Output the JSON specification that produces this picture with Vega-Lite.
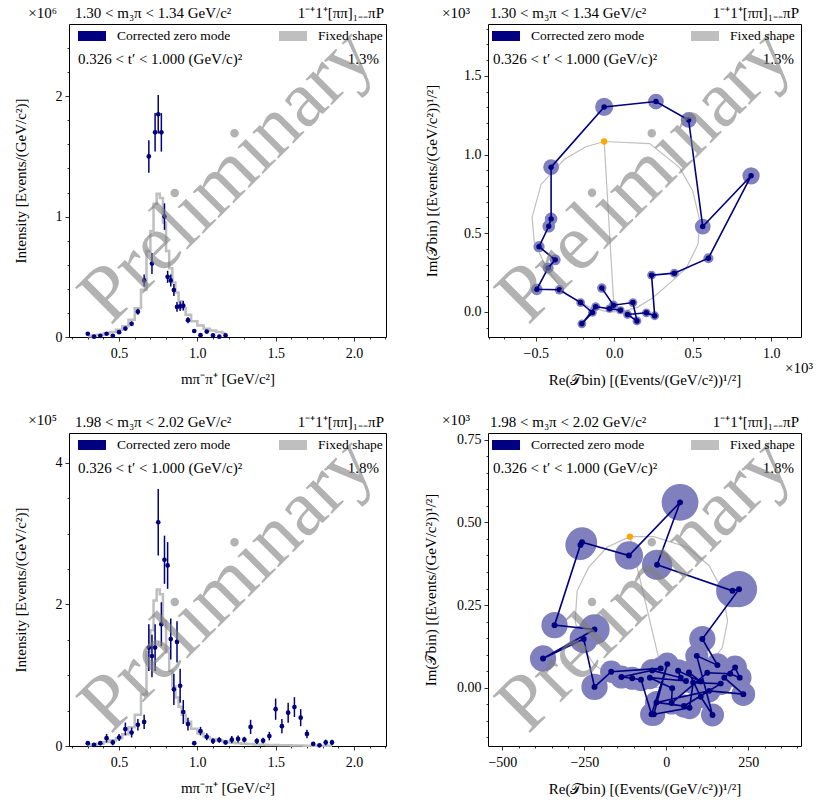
{
"$schema": "https://vega.github.io/schema/vega-lite/v6.json",
"background": "white",
"padding": {"left": 13, "top": 5, "right": 0, "bottom": 0},
"bounds": "flush",
"columns": 2,
"spacing": {"row": 96, "column": 102},
"resolve": {"scale": {"color": "independent", "size": "independent"}, "legend": {"color": "independent", "size": "independent"}},
"config": {
  "font": "Liberation Serif",
  "view": {"stroke": "black", "strokeWidth": 1},
  "axis": {"labelFont": "Liberation Serif", "labelFontSize": 14, "labelColor": "black", "titleFont": "Liberation Serif", "titleFontSize": 15, "titleFontWeight": "normal", "titleColor": "black", "tickColor": "black", "tickWidth": 0.8, "tickSize": 4, "labelPadding": 3, "domain": false, "grid": false, "labelFlush": false, "labelOverlap": false},
  "axisX": {"labelPadding": 5, "titlePadding": 11},
  "text": {"font": "Liberation Serif", "fontSize": 15, "color": "black"},
  "legend": {"labelFont": "Liberation Serif", "labelFontSize": 13.5, "labelColor": "black"}
},
"concat": [
{
  "width": 317, "height": 313,
  "resolve": {"axis": {"x": "independent", "y": "independent"}},
  "layer": [
    {"data": {"name": "tl"}, "mark": {"type": "line", "interpolate": "step", "strokeWidth": 2.5},
     "encoding": {
       "x": {"field": "m", "type": "quantitative", "scale": {"domain": [0.18, 2.205], "nice": false, "zero": false}, "axis": {"values": [0.5, 1, 1.5, 2], "format": ".1f", "title": "mπ⁻π⁺ [GeV/c²]", "orient": "bottom"}},
       "y": {"field": "fix", "type": "quantitative", "scale": {"domain": [0, 2.6], "nice": false}, "axis": {"values": [0, 1, 2], "format": "d", "title": "Intensity [Events/(GeV/c²)]", "orient": "left", "titlePadding": 26.5}},
       "color": {"datum": "Fixed shape", "scale": {"domain": ["Corrected zero mode", "Fixed shape"], "range": ["#000080", "#bfbfbf"]},
         "legend": {"title": null, "orient": "none", "legendX": 4, "legendY": -7, "direction": "horizontal", "columns": 2, "columnPadding": 28, "symbolType": "stroke", "symbolSize": 784, "symbolStrokeWidth": 10, "labelOffset": 6, "padding": 0}}
     }},
    {"data": {"name": "tl"}, "mark": {"type": "errorbar", "color": "#000080", "thickness": 1.5},
     "encoding": {
       "x": {"field": "m", "type": "quantitative", "axis": {"values": [0.2, 0.3, 0.4, 0.6, 0.7, 0.8, 0.9, 1.1, 1.2, 1.3, 1.4, 1.6, 1.7, 1.8, 1.9, 2.1, 2.2], "labels": false, "tickSize": 2, "title": null, "orient": "bottom"}},
       "y": {"field": "I", "type": "quantitative", "axis": {"values": [0.2, 0.4, 0.6, 0.8, 1.2, 1.4, 1.6, 1.8, 2.2, 2.4], "labels": false, "tickSize": 2, "title": null, "orient": "left"}},
       "yError": {"field": "err"}
     }},
    {"data": {"name": "tl"}, "mark": {"type": "point", "filled": true, "size": 22, "opacity": 1},
     "encoding": {
       "x": {"field": "m", "type": "quantitative", "axis": null},
       "y": {"field": "I", "type": "quantitative", "axis": null},
       "color": {"datum": "Corrected zero mode"}
     }},
    {"data": {"name": "annTL"}, "mark": {"type": "text", "align": "left", "baseline": "alphabetic", "dx": 6, "dy": -6},
     "encoding": {"x": {"datum": 0.18, "type": "quantitative", "axis": null}, "y": {"datum": 2.6, "type": "quantitative", "axis": null}, "text": {"field": "ttl"}}},
    {"data": {"name": "annTL"}, "mark": {"type": "text", "align": "left", "baseline": "alphabetic", "dx": 9, "dy": 40},
     "encoding": {"x": {"datum": 0.18, "type": "quantitative", "axis": null}, "y": {"datum": 2.6, "type": "quantitative", "axis": null}, "text": {"field": "tr"}}},
    {"data": {"name": "annTL"}, "mark": {"type": "text", "align": "right", "baseline": "alphabetic", "dx": -7, "dy": 40},
     "encoding": {"x": {"datum": 2.205, "type": "quantitative", "axis": null}, "y": {"datum": 2.6, "type": "quantitative", "axis": null}, "text": {"field": "pct"}}},
    {"data": {"name": "annTL"}, "mark": {"type": "text", "align": "right", "baseline": "alphabetic", "dx": -2, "dy": -6},
     "encoding": {"x": {"datum": 2.205, "type": "quantitative", "axis": null}, "y": {"datum": 2.6, "type": "quantitative", "axis": null}, "text": {"field": "chan"}}},
    {"data": {"name": "annTL"}, "mark": {"type": "text", "align": "right", "baseline": "alphabetic", "dx": -12, "dy": -6},
     "encoding": {"x": {"datum": 0.18, "type": "quantitative", "axis": null}, "y": {"datum": 2.6, "type": "quantitative", "axis": null}, "text": {"field": "ey"}}},
    {"data": {"name": "annTL"}, "mark": {"type": "text", "align": "center", "baseline": "middle", "angle": 315, "fontSize": 80, "color": "#7f7f7f", "opacity": 0.6},
     "encoding": {"x": {"datum": 1.19, "type": "quantitative", "axis": null}, "y": {"datum": 1.34, "type": "quantitative", "axis": null}, "text": {"field": "wm"}}}
  ]
},
{
  "width": 313, "height": 313,
  "resolve": {"axis": {"x": "independent", "y": "independent"}},
  "layer": [
    {"mark": {"type": "rule", "color": "#444444", "strokeWidth": 0.8, "strokeDash": [2, 2]},
     "encoding": {"x": {"datum": 0, "type": "quantitative", "axis": null}}},
    {"mark": {"type": "rule", "color": "#444444", "strokeWidth": 0.8, "strokeDash": [2, 2]},
     "encoding": {"y": {"datum": 0, "type": "quantitative", "axis": null}}},
    {"data": {"name": "trfix"}, "mark": {"type": "line", "strokeWidth": 1.2},
     "encoding": {
       "x": {"field": "re", "type": "quantitative", "scale": {"domain": [-0.804, 1.19], "nice": false, "zero": false}, "axis": {"values": [-0.5, 0, 0.5, 1.0], "format": ".1f", "title": "Re(𝒯bin) [(Events/(GeV/c²))¹/²]", "orient": "bottom", "titlePadding": 12}},
       "y": {"field": "im", "type": "quantitative", "scale": {"domain": [-0.16, 1.83], "nice": false, "zero": false}, "axis": {"values": [0, 0.5, 1.0, 1.5], "format": ".1f", "title": "Im(𝒯bin) [(Events/(GeV/c²))¹/²]", "orient": "left", "titlePadding": 24}},
       "order": {"field": "k", "type": "quantitative"},
       "color": {"datum": "Fixed shape", "scale": {"domain": ["Corrected zero mode", "Fixed shape"], "range": ["#000080", "#bfbfbf"]},
         "legend": {"title": null, "orient": "none", "legendX": -1, "legendY": -7, "direction": "horizontal", "columns": 2, "columnPadding": 26, "symbolType": "stroke", "symbolSize": 784, "symbolStrokeWidth": 10, "labelOffset": 6, "padding": 0}}
     }},
    {"data": {"name": "tr"}, "mark": {"type": "point", "shape": "circle", "filled": true, "color": "#8080bf", "opacity": 1},
     "encoding": {
       "x": {"field": "re", "type": "quantitative", "axis": null},
       "y": {"field": "im", "type": "quantitative", "axis": null},
       "size": {"field": "err", "type": "quantitative", "scale": {"type": "pow", "exponent": 2, "zero": true, "nice": false, "domain": [0, 0.1], "range": [0, 986]}, "legend": null}
     }},
    {"data": {"name": "tr"}, "mark": {"type": "line", "color": "#000080", "strokeWidth": 1.6},
     "encoding": {
       "x": {"field": "re", "type": "quantitative", "axis": {"values": [-0.8, -0.7, -0.6, -0.4, -0.3, -0.2, -0.1, 0.1, 0.2, 0.3, 0.4, 0.6, 0.7, 0.8, 0.9, 1.1], "labels": false, "tickSize": 2, "title": null, "orient": "bottom"}},
       "y": {"field": "im", "type": "quantitative", "axis": {"values": [-0.1, 0.1, 0.2, 0.3, 0.4, 0.6, 0.7, 0.8, 0.9, 1.1, 1.2, 1.3, 1.4, 1.6, 1.7, 1.8], "labels": false, "tickSize": 2, "title": null, "orient": "left"}},
       "order": {"field": "m", "type": "quantitative"}
     }},
    {"data": {"name": "tr"}, "mark": {"type": "point", "filled": true, "size": 30, "opacity": 1},
     "encoding": {
       "x": {"field": "re", "type": "quantitative", "axis": null},
       "y": {"field": "im", "type": "quantitative", "axis": null},
       "color": {"datum": "Corrected zero mode"}
     }},
    {"data": {"name": "trorange"}, "mark": {"type": "point", "filled": true, "size": 40, "opacity": 1, "color": "#ffa500"},
     "encoding": {
       "x": {"field": "re", "type": "quantitative", "axis": null},
       "y": {"field": "im", "type": "quantitative", "axis": null}
     }},
    {"data": {"name": "annTR"}, "mark": {"type": "text", "align": "left", "baseline": "alphabetic", "dx": 2, "dy": -6},
     "encoding": {"x": {"datum": -0.804, "type": "quantitative", "axis": null}, "y": {"datum": 1.83, "type": "quantitative", "axis": null}, "text": {"field": "ttl"}}},
    {"data": {"name": "annTR"}, "mark": {"type": "text", "align": "left", "baseline": "alphabetic", "dx": 5, "dy": 40},
     "encoding": {"x": {"datum": -0.804, "type": "quantitative", "axis": null}, "y": {"datum": 1.83, "type": "quantitative", "axis": null}, "text": {"field": "tr"}}},
    {"data": {"name": "annTR"}, "mark": {"type": "text", "align": "right", "baseline": "alphabetic", "dx": -7, "dy": 40},
     "encoding": {"x": {"datum": 1.19, "type": "quantitative", "axis": null}, "y": {"datum": 1.83, "type": "quantitative", "axis": null}, "text": {"field": "pct"}}},
    {"data": {"name": "annTR"}, "mark": {"type": "text", "align": "right", "baseline": "alphabetic", "dx": -2, "dy": -6},
     "encoding": {"x": {"datum": 1.19, "type": "quantitative", "axis": null}, "y": {"datum": 1.83, "type": "quantitative", "axis": null}, "text": {"field": "chan"}}},
    {"data": {"name": "annTR"}, "mark": {"type": "text", "align": "right", "baseline": "alphabetic", "dx": -18, "dy": -6},
     "encoding": {"x": {"datum": -0.804, "type": "quantitative", "axis": null}, "y": {"datum": 1.83, "type": "quantitative", "axis": null}, "text": {"field": "ey"}}},
    {"data": {"name": "annTR"}, "mark": {"type": "text", "align": "right", "baseline": "alphabetic", "dx": 12, "dy": 36},
     "encoding": {"x": {"datum": 1.19, "type": "quantitative", "axis": null}, "y": {"datum": -0.16, "type": "quantitative", "axis": null}, "text": {"field": "ex"}}},
    {"data": {"name": "annTR"}, "mark": {"type": "text", "align": "center", "baseline": "middle", "angle": 315, "fontSize": 80, "color": "#7f7f7f", "opacity": 0.6},
     "encoding": {"x": {"datum": 0.193, "type": "quantitative", "axis": null}, "y": {"datum": 0.867, "type": "quantitative", "axis": null}, "text": {"field": "wm"}}}
  ]
},
{
  "width": 317, "height": 313,
  "resolve": {"axis": {"x": "independent", "y": "independent"}},
  "layer": [
    {"data": {"name": "bl"}, "mark": {"type": "line", "interpolate": "step", "strokeWidth": 2.5},
     "encoding": {
       "x": {"field": "m", "type": "quantitative", "scale": {"domain": [0.18, 2.205], "nice": false, "zero": false}, "axis": {"values": [0.5, 1, 1.5, 2], "format": ".1f", "title": "mπ⁻π⁺ [GeV/c²]", "orient": "bottom"}},
       "y": {"field": "fix", "type": "quantitative", "scale": {"domain": [0, 4.42], "nice": false}, "axis": {"values": [0, 2, 4], "format": "d", "title": "Intensity [Events/(GeV/c²)]", "orient": "left", "titlePadding": 26.5}},
       "color": {"datum": "Fixed shape", "scale": {"domain": ["Corrected zero mode", "Fixed shape"], "range": ["#000080", "#bfbfbf"]},
         "legend": {"title": null, "orient": "none", "legendX": 4, "legendY": -7, "direction": "horizontal", "columns": 2, "columnPadding": 28, "symbolType": "stroke", "symbolSize": 784, "symbolStrokeWidth": 10, "labelOffset": 6, "padding": 0}}
     }},
    {"data": {"name": "bl"}, "mark": {"type": "errorbar", "color": "#000080", "thickness": 1.5},
     "encoding": {
       "x": {"field": "m", "type": "quantitative", "axis": {"values": [0.2, 0.3, 0.4, 0.6, 0.7, 0.8, 0.9, 1.1, 1.2, 1.3, 1.4, 1.6, 1.7, 1.8, 1.9, 2.1, 2.2], "labels": false, "tickSize": 2, "title": null, "orient": "bottom"}},
       "y": {"field": "I", "type": "quantitative", "axis": {"values": [0.5, 1, 1.5, 2.5, 3, 3.5], "labels": false, "tickSize": 2, "title": null, "orient": "left"}},
       "yError": {"field": "err"}
     }},
    {"data": {"name": "bl"}, "mark": {"type": "point", "filled": true, "size": 22, "opacity": 1},
     "encoding": {
       "x": {"field": "m", "type": "quantitative", "axis": null},
       "y": {"field": "I", "type": "quantitative", "axis": null},
       "color": {"datum": "Corrected zero mode"}
     }},
    {"data": {"name": "annBL"}, "mark": {"type": "text", "align": "left", "baseline": "alphabetic", "dx": 6, "dy": -6},
     "encoding": {"x": {"datum": 0.18, "type": "quantitative", "axis": null}, "y": {"datum": 4.42, "type": "quantitative", "axis": null}, "text": {"field": "ttl"}}},
    {"data": {"name": "annBL"}, "mark": {"type": "text", "align": "left", "baseline": "alphabetic", "dx": 9, "dy": 40},
     "encoding": {"x": {"datum": 0.18, "type": "quantitative", "axis": null}, "y": {"datum": 4.42, "type": "quantitative", "axis": null}, "text": {"field": "tr"}}},
    {"data": {"name": "annBL"}, "mark": {"type": "text", "align": "right", "baseline": "alphabetic", "dx": -7, "dy": 40},
     "encoding": {"x": {"datum": 2.205, "type": "quantitative", "axis": null}, "y": {"datum": 4.42, "type": "quantitative", "axis": null}, "text": {"field": "pct"}}},
    {"data": {"name": "annBL"}, "mark": {"type": "text", "align": "right", "baseline": "alphabetic", "dx": -2, "dy": -6},
     "encoding": {"x": {"datum": 2.205, "type": "quantitative", "axis": null}, "y": {"datum": 4.42, "type": "quantitative", "axis": null}, "text": {"field": "chan"}}},
    {"data": {"name": "annBL"}, "mark": {"type": "text", "align": "right", "baseline": "alphabetic", "dx": -12, "dy": -8},
     "encoding": {"x": {"datum": 0.18, "type": "quantitative", "axis": null}, "y": {"datum": 4.42, "type": "quantitative", "axis": null}, "text": {"field": "ey"}}},
    {"data": {"name": "annBL"}, "mark": {"type": "text", "align": "center", "baseline": "middle", "angle": 315, "fontSize": 80, "color": "#7f7f7f", "opacity": 0.6},
     "encoding": {"x": {"datum": 1.19, "type": "quantitative", "axis": null}, "y": {"datum": 2.28, "type": "quantitative", "axis": null}, "text": {"field": "wm"}}}
  ]
},
{
  "width": 313, "height": 313,
  "resolve": {"axis": {"x": "independent", "y": "independent"}},
  "layer": [
    {"mark": {"type": "rule", "color": "#444444", "strokeWidth": 0.8, "strokeDash": [2, 2]},
     "encoding": {"x": {"datum": 0, "type": "quantitative", "axis": null}}},
    {"mark": {"type": "rule", "color": "#444444", "strokeWidth": 0.8, "strokeDash": [2, 2]},
     "encoding": {"y": {"datum": 0, "type": "quantitative", "axis": null}}},
    {"data": {"name": "brfix"}, "mark": {"type": "line", "strokeWidth": 1.2},
     "encoding": {
       "x": {"field": "re", "type": "quantitative", "scale": {"domain": [-544, 411], "nice": false, "zero": false}, "axis": {"values": [-500, -250, 0, 250], "format": "d", "title": "Re(𝒯bin) [(Events/(GeV/c²))¹/²]", "orient": "bottom", "titlePadding": 12}},
       "y": {"field": "im", "type": "quantitative", "scale": {"domain": [-177, 771], "nice": false, "zero": false}, "axis": {"values": [0, 250, 500, 750], "labelExpr": "format(datum.value/1000, '.2f')", "title": "Im(𝒯bin) [(Events/(GeV/c²))¹/²]", "orient": "left", "titlePadding": 18}},
       "order": {"field": "k", "type": "quantitative"},
       "color": {"datum": "Fixed shape", "scale": {"domain": ["Corrected zero mode", "Fixed shape"], "range": ["#000080", "#bfbfbf"]},
         "legend": {"title": null, "orient": "none", "legendX": -1, "legendY": -7, "direction": "horizontal", "columns": 2, "columnPadding": 26, "symbolType": "stroke", "symbolSize": 784, "symbolStrokeWidth": 10, "labelOffset": 6, "padding": 0}}
     }},
    {"data": {"name": "br"}, "mark": {"type": "point", "shape": "circle", "filled": true, "color": "#8080bf", "opacity": 1},
     "encoding": {
       "x": {"field": "re", "type": "quantitative", "axis": null},
       "y": {"field": "im", "type": "quantitative", "axis": null},
       "size": {"field": "err", "type": "quantitative", "scale": {"type": "pow", "exponent": 2, "zero": true, "nice": false, "domain": [0, 100], "range": [0, 4316]}, "legend": null}
     }},
    {"data": {"name": "br"}, "mark": {"type": "line", "color": "#000080", "strokeWidth": 1.6},
     "encoding": {
       "x": {"field": "re", "type": "quantitative", "axis": {"values": [-450, -400, -350, -300, -200, -150, -100, -50, 50, 100, 150, 200, 300, 350, 400], "labels": false, "tickSize": 2, "title": null, "orient": "bottom"}},
       "y": {"field": "im", "type": "quantitative", "axis": {"values": [-150, -100, -50, 50, 100, 150, 200, 300, 350, 400, 450, 550, 600, 650, 700], "labels": false, "tickSize": 2, "title": null, "orient": "left"}},
       "order": {"field": "m", "type": "quantitative"}
     }},
    {"data": {"name": "br"}, "mark": {"type": "point", "filled": true, "size": 35, "opacity": 1},
     "encoding": {
       "x": {"field": "re", "type": "quantitative", "axis": null},
       "y": {"field": "im", "type": "quantitative", "axis": null},
       "color": {"datum": "Corrected zero mode"}
     }},
    {"data": {"name": "brorange"}, "mark": {"type": "point", "filled": true, "size": 40, "opacity": 1, "color": "#ffa500"},
     "encoding": {
       "x": {"field": "re", "type": "quantitative", "axis": null},
       "y": {"field": "im", "type": "quantitative", "axis": null}
     }},
    {"data": {"name": "annBR"}, "mark": {"type": "text", "align": "left", "baseline": "alphabetic", "dx": 2, "dy": -6},
     "encoding": {"x": {"datum": -544, "type": "quantitative", "axis": null}, "y": {"datum": 771, "type": "quantitative", "axis": null}, "text": {"field": "ttl"}}},
    {"data": {"name": "annBR"}, "mark": {"type": "text", "align": "left", "baseline": "alphabetic", "dx": 5, "dy": 40},
     "encoding": {"x": {"datum": -544, "type": "quantitative", "axis": null}, "y": {"datum": 771, "type": "quantitative", "axis": null}, "text": {"field": "tr"}}},
    {"data": {"name": "annBR"}, "mark": {"type": "text", "align": "right", "baseline": "alphabetic", "dx": -7, "dy": 40},
     "encoding": {"x": {"datum": 411, "type": "quantitative", "axis": null}, "y": {"datum": 771, "type": "quantitative", "axis": null}, "text": {"field": "pct"}}},
    {"data": {"name": "annBR"}, "mark": {"type": "text", "align": "right", "baseline": "alphabetic", "dx": -2, "dy": -6},
     "encoding": {"x": {"datum": 411, "type": "quantitative", "axis": null}, "y": {"datum": 771, "type": "quantitative", "axis": null}, "text": {"field": "chan"}}},
    {"data": {"name": "annBR"}, "mark": {"type": "text", "align": "right", "baseline": "alphabetic", "dx": -18, "dy": -8},
     "encoding": {"x": {"datum": -544, "type": "quantitative", "axis": null}, "y": {"datum": 771, "type": "quantitative", "axis": null}, "text": {"field": "ey"}}},
    {"data": {"name": "annBR"}, "mark": {"type": "text", "align": "center", "baseline": "middle", "angle": 315, "fontSize": 80, "color": "#7f7f7f", "opacity": 0.6},
     "encoding": {"x": {"datum": -66.5, "type": "quantitative", "axis": null}, "y": {"datum": 312, "type": "quantitative", "axis": null}, "text": {"field": "wm"}}}
  ]
}
],
"datasets": {
  "annTL": [{"ttl": "1.30 < m₃π < 1.34 GeV/c²", "tr": "0.326 < t′ < 1.000 (GeV/c)²", "pct": "1.3%", "chan": "1⁻⁺1⁺[ππ]₁₋₋πP", "ey": "×10⁶", "wm": "Preliminary"}],
  "annTR": [{"ttl": "1.30 < m₃π < 1.34 GeV/c²", "tr": "0.326 < t′ < 1.000 (GeV/c)²", "pct": "1.3%", "chan": "1⁻⁺1⁺[ππ]₁₋₋πP", "ey": "×10³", "ex": "×10³", "wm": "Preliminary"}],
  "annBL": [{"ttl": "1.98 < m₃π < 2.02 GeV/c²", "tr": "0.326 < t′ < 1.000 (GeV/c)²", "pct": "1.8%", "chan": "1⁻⁺1⁺[ππ]₁₋₋πP", "ey": "×10⁵", "wm": "Preliminary"}],
  "annBR": [{"ttl": "1.98 < m₃π < 2.02 GeV/c²", "tr": "0.326 < t′ < 1.000 (GeV/c)²", "pct": "1.8%", "chan": "1⁻⁺1⁺[ππ]₁₋₋πP", "ey": "×10³", "wm": "Preliminary"}],
  "tl": [
    {"m": 0.30, "I": 0.027, "err": 0.010, "fix": 0.006},
    {"m": 0.34, "I": 0.003, "err": 0.008, "fix": 0.012},
    {"m": 0.38, "I": 0.010, "err": 0.008, "fix": 0.018},
    {"m": 0.42, "I": 0.027, "err": 0.010, "fix": 0.030},
    {"m": 0.46, "I": 0.010, "err": 0.008, "fix": 0.042},
    {"m": 0.50, "I": 0.040, "err": 0.012, "fix": 0.060},
    {"m": 0.54, "I": 0.070, "err": 0.015, "fix": 0.089},
    {"m": 0.58, "I": 0.110, "err": 0.020, "fix": 0.143},
    {"m": 0.62, "I": 0.210, "err": 0.025, "fix": 0.238},
    {"m": 0.66, "I": 0.470, "err": 0.050, "fix": 0.393},
    {"m": 0.69, "I": 1.500, "err": 0.135, "fix": 0.714},
    {"m": 0.71, "I": 0.610, "err": 0.087, "fix": 0.881},
    {"m": 0.73, "I": 1.700, "err": 0.160, "fix": 1.107},
    {"m": 0.75, "I": 1.850, "err": 0.160, "fix": 1.190},
    {"m": 0.77, "I": 1.700, "err": 0.160, "fix": 1.154},
    {"m": 0.79, "I": 1.000, "err": 0.110, "fix": 0.952},
    {"m": 0.81, "I": 0.500, "err": 0.050, "fix": 0.714},
    {"m": 0.83, "I": 0.470, "err": 0.050, "fix": 0.571},
    {"m": 0.85, "I": 0.390, "err": 0.050, "fix": 0.452},
    {"m": 0.87, "I": 0.250, "err": 0.040, "fix": 0.369},
    {"m": 0.89, "I": 0.255, "err": 0.040, "fix": 0.298},
    {"m": 0.91, "I": 0.260, "err": 0.040, "fix": 0.238},
    {"m": 0.94, "I": 0.140, "err": 0.025, "fix": 0.184},
    {"m": 0.98, "I": 0.050, "err": 0.015, "fix": 0.131},
    {"m": 1.02, "I": 0.015, "err": 0.010, "fix": 0.095},
    {"m": 1.06, "I": 0.045, "err": 0.012, "fix": 0.069},
    {"m": 1.10, "I": 0.013, "err": 0.008, "fix": 0.054},
    {"m": 1.14, "I": 0.003, "err": 0.006, "fix": 0.042},
    {"m": 1.18, "I": 0.013, "err": 0.008, "fix": 0.033}
  ],
  "bl": [
    {"m": 0.30, "I": 0.04, "err": 0.03, "fix": 0.011},
    {"m": 0.34, "I": 0.015, "err": 0.02, "fix": 0.022},
    {"m": 0.38, "I": 0.04, "err": 0.03, "fix": 0.033},
    {"m": 0.42, "I": 0.11, "err": 0.06, "fix": 0.055},
    {"m": 0.46, "I": 0.05, "err": 0.04, "fix": 0.077},
    {"m": 0.50, "I": 0.12, "err": 0.05, "fix": 0.110},
    {"m": 0.54, "I": 0.24, "err": 0.09, "fix": 0.166},
    {"m": 0.58, "I": 0.19, "err": 0.07, "fix": 0.265},
    {"m": 0.62, "I": 0.30, "err": 0.08, "fix": 0.442},
    {"m": 0.66, "I": 0.34, "err": 0.10, "fix": 0.729},
    {"m": 0.69, "I": 1.39, "err": 0.33, "fix": 1.326},
    {"m": 0.71, "I": 1.27, "err": 0.30, "fix": 1.635},
    {"m": 0.73, "I": 1.39, "err": 0.33, "fix": 2.055},
    {"m": 0.75, "I": 3.16, "err": 0.47, "fix": 2.210},
    {"m": 0.77, "I": 1.72, "err": 0.31, "fix": 2.144},
    {"m": 0.79, "I": 2.63, "err": 0.34, "fix": 1.768},
    {"m": 0.81, "I": 2.55, "err": 0.33, "fix": 1.326},
    {"m": 0.83, "I": 1.51, "err": 0.29, "fix": 1.061},
    {"m": 0.85, "I": 0.80, "err": 0.22, "fix": 0.840},
    {"m": 0.87, "I": 1.47, "err": 0.29, "fix": 0.685},
    {"m": 0.89, "I": 0.85, "err": 0.24, "fix": 0.553},
    {"m": 0.91, "I": 0.48, "err": 0.17, "fix": 0.442},
    {"m": 0.94, "I": 0.31, "err": 0.09, "fix": 0.343},
    {"m": 0.98, "I": 0.04, "err": 0.03, "fix": 0.243},
    {"m": 1.02, "I": 0.21, "err": 0.06, "fix": 0.177},
    {"m": 1.06, "I": 0.13, "err": 0.05, "fix": 0.128},
    {"m": 1.10, "I": 0.07, "err": 0.04, "fix": 0.099},
    {"m": 1.14, "I": 0.085, "err": 0.04, "fix": 0.077},
    {"m": 1.18, "I": 0.05, "err": 0.03, "fix": 0.062},
    {"m": 1.22, "I": 0.09, "err": 0.05, "fix": 0.049},
    {"m": 1.26, "I": 0.10, "err": 0.05, "fix": 0.040},
    {"m": 1.30, "I": 0.09, "err": 0.04, "fix": 0.033},
    {"m": 1.34, "I": 0.27, "err": 0.10, "fix": 0.027},
    {"m": 1.38, "I": 0.07, "err": 0.04, "fix": 0.022},
    {"m": 1.42, "I": 0.075, "err": 0.04, "fix": 0.018},
    {"m": 1.46, "I": 0.14, "err": 0.06, "fix": 0.015},
    {"m": 1.50, "I": 0.52, "err": 0.15, "fix": 0.013},
    {"m": 1.54, "I": 0.28, "err": 0.10, "fix": 0.011},
    {"m": 1.58, "I": 0.47, "err": 0.14, "fix": 0.009},
    {"m": 1.62, "I": 0.55, "err": 0.14, "fix": 0.007},
    {"m": 1.66, "I": 0.40, "err": 0.12, "fix": 0.006},
    {"m": 1.70, "I": 0.17, "err": 0.06, "fix": 0.005},
    {"m": 1.74, "I": 0.03, "err": 0.02, "fix": 0.004},
    {"m": 1.78, "I": 0.01, "err": 0.01, "fix": 0.003},
    {"m": 1.82, "I": 0.05, "err": 0.04, "fix": 0.003},
    {"m": 1.86, "I": 0.05, "err": 0.04, "fix": 0.002}
  ],
  "tr": [
    {"m": 0.30, "re": -0.079, "im": 0.151, "err": 0.030},
    {"m": 0.34, "re": -0.005, "im": 0.042, "err": 0.030},
    {"m": 0.38, "re": 0.119, "im": 0.059, "err": 0.028},
    {"m": 0.42, "re": 0.145, "im": -0.058, "err": 0.028},
    {"m": 0.46, "re": 0.085, "im": -0.017, "err": 0.028},
    {"m": 0.50, "re": 0.205, "im": -0.006, "err": 0.028},
    {"m": 0.54, "re": 0.258, "im": -0.025, "err": 0.028},
    {"m": 0.58, "re": 0.238, "im": 0.233, "err": 0.028},
    {"m": 0.62, "re": 0.383, "im": 0.246, "err": 0.028},
    {"m": 0.66, "re": 0.600, "im": 0.341, "err": 0.032},
    {"m": 0.69, "re": 0.872, "im": 0.865, "err": 0.055},
    {"m": 0.71, "re": 0.564, "im": 0.542, "err": 0.050},
    {"m": 0.73, "re": 0.474, "im": 1.220, "err": 0.050},
    {"m": 0.75, "re": 0.266, "im": 1.337, "err": 0.050},
    {"m": 0.77, "re": -0.064, "im": 1.303, "err": 0.058},
    {"m": 0.79, "re": -0.402, "im": 0.920, "err": 0.050},
    {"m": 0.81, "re": -0.402, "im": 0.591, "err": 0.040},
    {"m": 0.83, "re": -0.417, "im": 0.544, "err": 0.040},
    {"m": 0.85, "re": -0.479, "im": 0.414, "err": 0.036},
    {"m": 0.87, "re": -0.376, "im": 0.331, "err": 0.035},
    {"m": 0.89, "re": -0.421, "im": 0.279, "err": 0.035},
    {"m": 0.91, "re": -0.493, "im": 0.143, "err": 0.037},
    {"m": 0.94, "re": -0.349, "im": 0.140, "err": 0.030},
    {"m": 0.98, "re": -0.214, "im": 0.059, "err": 0.028},
    {"m": 1.02, "re": -0.139, "im": -0.004, "err": 0.028},
    {"m": 1.06, "re": -0.206, "im": -0.076, "err": 0.028},
    {"m": 1.10, "re": -0.118, "im": 0.033, "err": 0.028},
    {"m": 1.14, "re": -0.030, "im": 0.020, "err": 0.026},
    {"m": 1.18, "re": 0.040, "im": 0.010, "err": 0.026}
  ],
  "trfix": [
    {"k": 0, "re": -0.064, "im": 1.083},
    {"k": 1, "re": 0.000, "im": 0.000},
    {"k": 2, "re": 0.060, "im": 0.005},
    {"k": 3, "re": 0.150, "im": 0.030},
    {"k": 4, "re": 0.246, "im": 0.090},
    {"k": 5, "re": 0.374, "im": 0.200},
    {"k": 6, "re": 0.460, "im": 0.280},
    {"k": 7, "re": 0.534, "im": 0.430},
    {"k": 8, "re": 0.545, "im": 0.580},
    {"k": 9, "re": 0.500, "im": 0.770},
    {"k": 10, "re": 0.417, "im": 0.917},
    {"k": 11, "re": 0.226, "im": 1.070},
    {"k": 12, "re": -0.064, "im": 1.083},
    {"k": 13, "re": -0.180, "im": 1.050},
    {"k": 14, "re": -0.317, "im": 0.970},
    {"k": 15, "re": -0.466, "im": 0.810},
    {"k": 16, "re": -0.523, "im": 0.600},
    {"k": 17, "re": -0.510, "im": 0.450},
    {"k": 18, "re": -0.434, "im": 0.280},
    {"k": 19, "re": -0.306, "im": 0.110},
    {"k": 20, "re": -0.158, "im": 0.030},
    {"k": 21, "re": -0.060, "im": 0.005},
    {"k": 22, "re": 0.000, "im": 0.000}
  ],
  "trorange": [{"re": -0.064, "im": 1.083}],
  "br": [
    {"m": 0.30, "re": -43, "im": 52, "err": 35},
    {"m": 0.34, "re": 44, "im": 30, "err": 35},
    {"m": 0.38, "re": 36, "im": 51, "err": 35},
    {"m": 0.42, "re": 105, "im": 18, "err": 35},
    {"m": 0.46, "re": 69, "im": 46, "err": 35},
    {"m": 0.50, "re": 105, "im": -28, "err": 35},
    {"m": 0.54, "re": 141, "im": -83, "err": 35},
    {"m": 0.58, "re": 93, "im": 96, "err": 35},
    {"m": 0.62, "re": 156, "im": 68, "err": 36},
    {"m": 0.66, "re": 110, "im": 147, "err": 40},
    {"m": 0.69, "re": 222, "im": 298, "err": 55},
    {"m": 0.71, "re": 202, "im": 293, "err": 50},
    {"m": 0.73, "re": -28, "im": 372, "err": 46},
    {"m": 0.75, "re": 42, "im": 561, "err": 56},
    {"m": 0.77, "re": -114, "im": 400, "err": 43},
    {"m": 0.79, "re": -257, "im": 440, "err": 46},
    {"m": 0.81, "re": -262, "im": 432, "err": 46},
    {"m": 0.83, "re": -341, "im": 189, "err": 40},
    {"m": 0.85, "re": -219, "im": 176, "err": 46},
    {"m": 0.87, "re": -376, "im": 88, "err": 40},
    {"m": 0.89, "re": -252, "im": 147, "err": 43},
    {"m": 0.91, "re": -219, "im": 2, "err": 40},
    {"m": 0.94, "re": -168, "im": 48, "err": 34},
    {"m": 0.98, "re": -17, "im": 58, "err": 35},
    {"m": 1.02, "re": -137, "im": 32, "err": 35},
    {"m": 1.06, "re": -104, "im": 28, "err": 35},
    {"m": 1.10, "re": -77, "im": 24, "err": 35},
    {"m": 1.14, "re": -45, "im": -81, "err": 35},
    {"m": 1.18, "re": 3, "im": 71, "err": 35},
    {"m": 1.22, "re": -38, "im": -81, "err": 35},
    {"m": 1.26, "re": 71, "im": -61, "err": 35},
    {"m": 1.30, "re": 82, "im": 15, "err": 35},
    {"m": 1.34, "re": 166, "im": 12, "err": 35},
    {"m": 1.38, "re": 54, "im": -56, "err": 35},
    {"m": 1.42, "re": -30, "im": -45, "err": 35},
    {"m": 1.46, "re": 131, "im": -10, "err": 35},
    {"m": 1.50, "re": 235, "im": -20, "err": 36},
    {"m": 1.54, "re": 177, "im": 30, "err": 35},
    {"m": 1.58, "re": 210, "im": 61, "err": 36},
    {"m": 1.62, "re": 224, "im": 30, "err": 36},
    {"m": 1.66, "re": 195, "im": 42, "err": 36},
    {"m": 1.70, "re": 125, "im": 45, "err": 35},
    {"m": 1.74, "re": 16, "im": -47, "err": 35},
    {"m": 1.78, "re": 18, "im": -2, "err": 35},
    {"m": 1.82, "re": -50, "im": 30, "err": 35},
    {"m": 1.86, "re": 60, "im": 20, "err": 35}
  ],
  "brfix": [
    {"k": 0, "re": -111, "im": 457},
    {"k": 1, "re": -2, "im": 0},
    {"k": 2, "re": 64, "im": 20},
    {"k": 3, "re": 125, "im": 61},
    {"k": 4, "re": 171, "im": 121},
    {"k": 5, "re": 187, "im": 202},
    {"k": 6, "re": 171, "im": 293},
    {"k": 7, "re": 131, "im": 369},
    {"k": 8, "re": 64, "im": 425},
    {"k": 9, "re": -38, "im": 457},
    {"k": 10, "re": -111, "im": 457},
    {"k": 11, "re": -181, "im": 425},
    {"k": 12, "re": -237, "im": 364},
    {"k": 13, "re": -272, "im": 293},
    {"k": 14, "re": -278, "im": 202},
    {"k": 15, "re": -262, "im": 132},
    {"k": 16, "re": -221, "im": 71},
    {"k": 17, "re": -160, "im": 25},
    {"k": 18, "re": -79, "im": 2},
    {"k": 19, "re": -2, "im": 0}
  ],
  "brorange": [{"re": -111, "im": 457}]
}
}
